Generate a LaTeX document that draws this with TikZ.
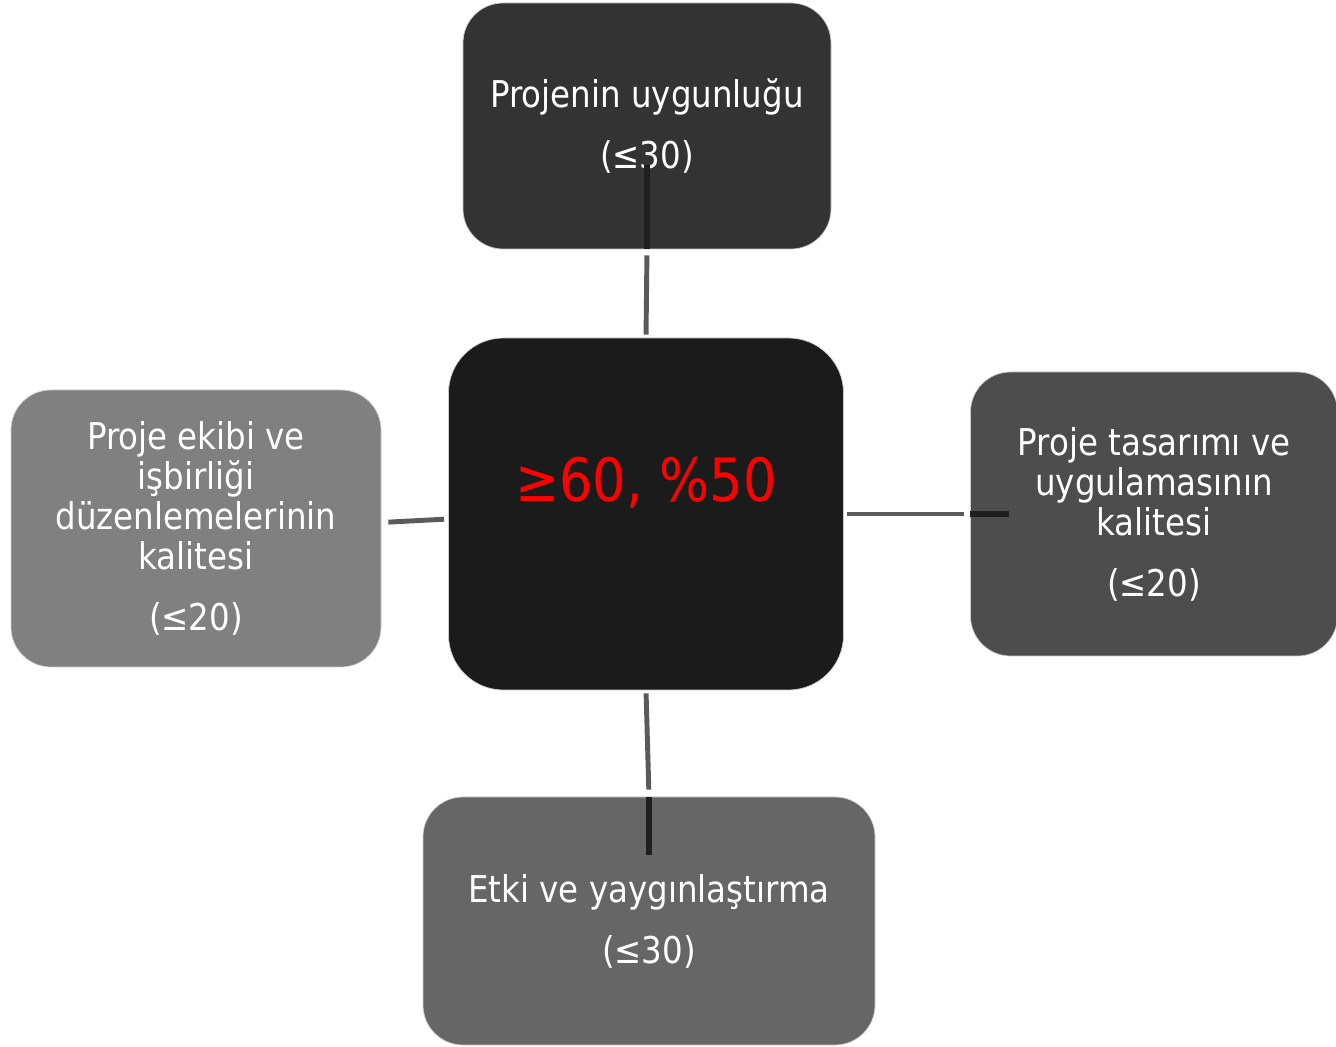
\documentclass[tikz,border=0pt]{standalone}
\usepackage{fontspec}
\setmainfont{DejaVu Sans}[FakeStretch=0.88]
\usepackage{tikz}
\usetikzlibrary{positioning}
\definecolor{topgray}{HTML}{333333}
\definecolor{centergray}{HTML}{1B1B1B}
\definecolor{rightgray}{HTML}{4D4D4D}
\definecolor{leftgray}{HTML}{808080}
\definecolor{bottomgray}{HTML}{666666}
\definecolor{linkgray}{HTML}{5A5A5A}
\definecolor{scorered}{HTML}{FF0000}
\tikzset{
  criterionbox/.style={draw=black!20,line width=0.4pt,rounded corners=0.8cm,align=center,
    text=white,inner sep=0pt,font=\fontsize{21pt}{22.8pt}\selectfont},
  scorebox/.style={draw=black!20,line width=0.4pt,fill=centergray,rounded corners=1.1cm,
    minimum width=7.9cm,minimum height=7.04cm,inner sep=0pt},
  scoretext/.style={text=scorered,font=\fontsize{34pt}{37pt}\selectfont,inner sep=0pt},
  linkline/.style={draw=linkgray,line width=2.8pt},
  innerline/.style={draw=black!88,line width=3.2pt}
}

\begin{document}
\begin{tikzpicture}[x=1cm,y=1cm]
  \useasboundingbox (0,0) rectangle (26.72,-20.94);
  \node[criterionbox,fill=topgray,minimum width=7.36cm,minimum height=4.92cm] (top) at (12.94,-2.52)
    {Projenin uygunluğu\\[11.9pt](≤30)};
  \node[scorebox] (ctr) at (12.92,-10.28) {};
  \node[scoretext] (score) at ([yshift=0.62cm]ctr.center) {≥60, \%50};
  \node[criterionbox,fill=rightgray,minimum width=7.34cm,minimum height=5.68cm] (right) at (23.08,-10.28)
    {Proje tasarımı ve\\uygulamasının\\kalitesi\\[11.9pt](≤20)};
  \node[criterionbox,fill=leftgray,minimum width=7.4cm,minimum height=5.54cm] (left) at (3.92,-10.57)
    {Proje ekibi ve\\işbirliği\\düzenlemelerinin\\kalitesi\\[11.9pt](≤20)};
  \node[criterionbox,fill=bottomgray,minimum width=9.04cm,minimum height=4.96cm] (bottom) at (12.98,-18.42)
    {Etki ve yaygınlaştırma\\[11.9pt](≤30)};

  \coordinate (topend) at ([yshift=1.68cm]top.south);
  \coordinate (rightend) at ([xshift=0.78cm]right.west);
  \coordinate (bottomend) at ([yshift=-1.16cm]bottom.north);

  \draw[linkline,shorten <=0.06cm,shorten >=0.12cm] (ctr.north) -- (top.south);
  \draw[innerline] (top.south) -- (topend);
  \draw[linkline,shorten <=0.06cm,shorten >=0.12cm] (ctr.east) -- (right.west);
  \draw[innerline] (right.west) -- (rightend);
  \draw[linkline,shorten <=0.06cm,shorten >=0.14cm] (ctr.south) -- (bottom.north);
  \draw[innerline] (bottom.north) -- (bottomend);
  \draw[linkline,shorten <=0.08cm,shorten >=0.14cm] ([yshift=-0.1cm]ctr.west) -- ([yshift=0.12cm]left.east);
\end{tikzpicture}
\end{document}
